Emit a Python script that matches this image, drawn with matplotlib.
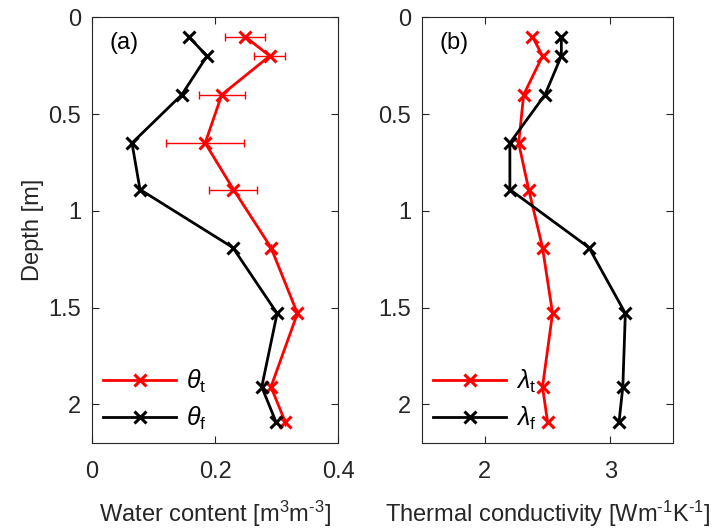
import matplotlib.pyplot as plt

# sampling depths [m]
depth = [0.1, 0.2, 0.4, 0.65, 0.89, 1.19, 1.53, 1.91, 2.09]

# water content [m3 m-3]
theta_t = [0.249, 0.289, 0.211, 0.184, 0.230, 0.291, 0.334, 0.291, 0.314]
theta_t_err = [0.032, 0.025, 0.037, 0.063, 0.039, 0, 0, 0, 0]
theta_f = [0.157, 0.187, 0.146, 0.065, 0.078, 0.229, 0.301, 0.276, 0.299]

# thermal conductivity [W m-1 K-1]
lam_t = [2.38, 2.46, 2.31, 2.27, 2.35, 2.46, 2.54, 2.46, 2.50]
lam_f = [2.61, 2.61, 2.48, 2.20, 2.20, 2.83, 3.12, 3.10, 3.07]

fam = 'Liberation Sans'
plt.rcParams['font.family'] = [fam, 'DejaVu Sans']
plt.rcParams['mathtext.fontset'] = 'custom'
plt.rcParams['mathtext.rm'] = fam
plt.rcParams['mathtext.it'] = fam + ':italic'
plt.rcParams['axes.unicode_minus'] = False
plt.rcParams['font.size'] = 17

grey = '#262626'
red = '#ff0000'

fig = plt.figure(figsize=(7.28, 5.32), dpi=100)
ax1 = fig.add_axes([0.1264, 0.1673, 0.3379, 0.8002])
ax2 = fig.add_axes([0.5797, 0.1673, 0.3448, 0.8002])

line_kw = dict(marker='x', markersize=8, markeredgewidth=2.2, linewidth=2)

# error bars drawn on their own so the legend shows plain lines
ax1.errorbar(theta_t, depth, xerr=theta_t_err, fmt='none', ecolor=red,
             elinewidth=1, capsize=3, capthick=1)
ax1.plot(theta_t, depth, color=red, label=r'$\theta_{\rm t}$', **line_kw)
ax1.plot(theta_f, depth, color='k', label=r'$\theta_{\rm f}$', **line_kw)
ax1.set_xlim(0, 0.4)
ax1.set_xticks([0, 0.2, 0.4])
ax1.set_xticklabels(['0', '0.2', '0.4'])
ax1.set_xlabel(r'Water content [m$^3$m$^{\text{-}3}$]', color=grey, labelpad=11)
ax1.set_ylabel('Depth [m]', color=grey, labelpad=3)

ax2.plot(lam_t, depth, color=red, label=r'$\lambda_{\rm t}$', **line_kw)
ax2.plot(lam_f, depth, color='k', label=r'$\lambda_{\rm f}$', **line_kw)
ax2.set_xlim(1.5, 3.5)
ax2.set_xticks([2, 3])
ax2.set_xlabel(r'Thermal conductivity [Wm$^{\text{-}1}$K$^{\text{-}1}$]',
               color=grey, labelpad=11)

for ax, tag in [(ax1, '(a)'), (ax2, '(b)')]:
    ax.set_ylim(2.2, 0)
    ax.set_yticks([0, 0.5, 1, 1.5, 2])
    ax.set_yticklabels(['0', '0.5', '1', '1.5', '2'])
    ax.tick_params(direction='in', top=True, right=True, length=5,
                   colors=grey, labelsize=17)
    ax.tick_params(axis='x', pad=13)
    ax.tick_params(axis='y', pad=8)
    for s in ax.spines.values():
        s.set_color(grey)
        s.set_linewidth(0.8)
    ax.text(0.07, 0.965, tag, transform=ax.transAxes, va='top', ha='left',
            fontsize=17, color='k')
    ax.legend(loc='lower left', frameon=False, handlelength=2.9,
              handletextpad=0.4, borderaxespad=0.05, labelspacing=0.4,
              fontsize=18)

plt.savefig('out.png', dpi=100)
